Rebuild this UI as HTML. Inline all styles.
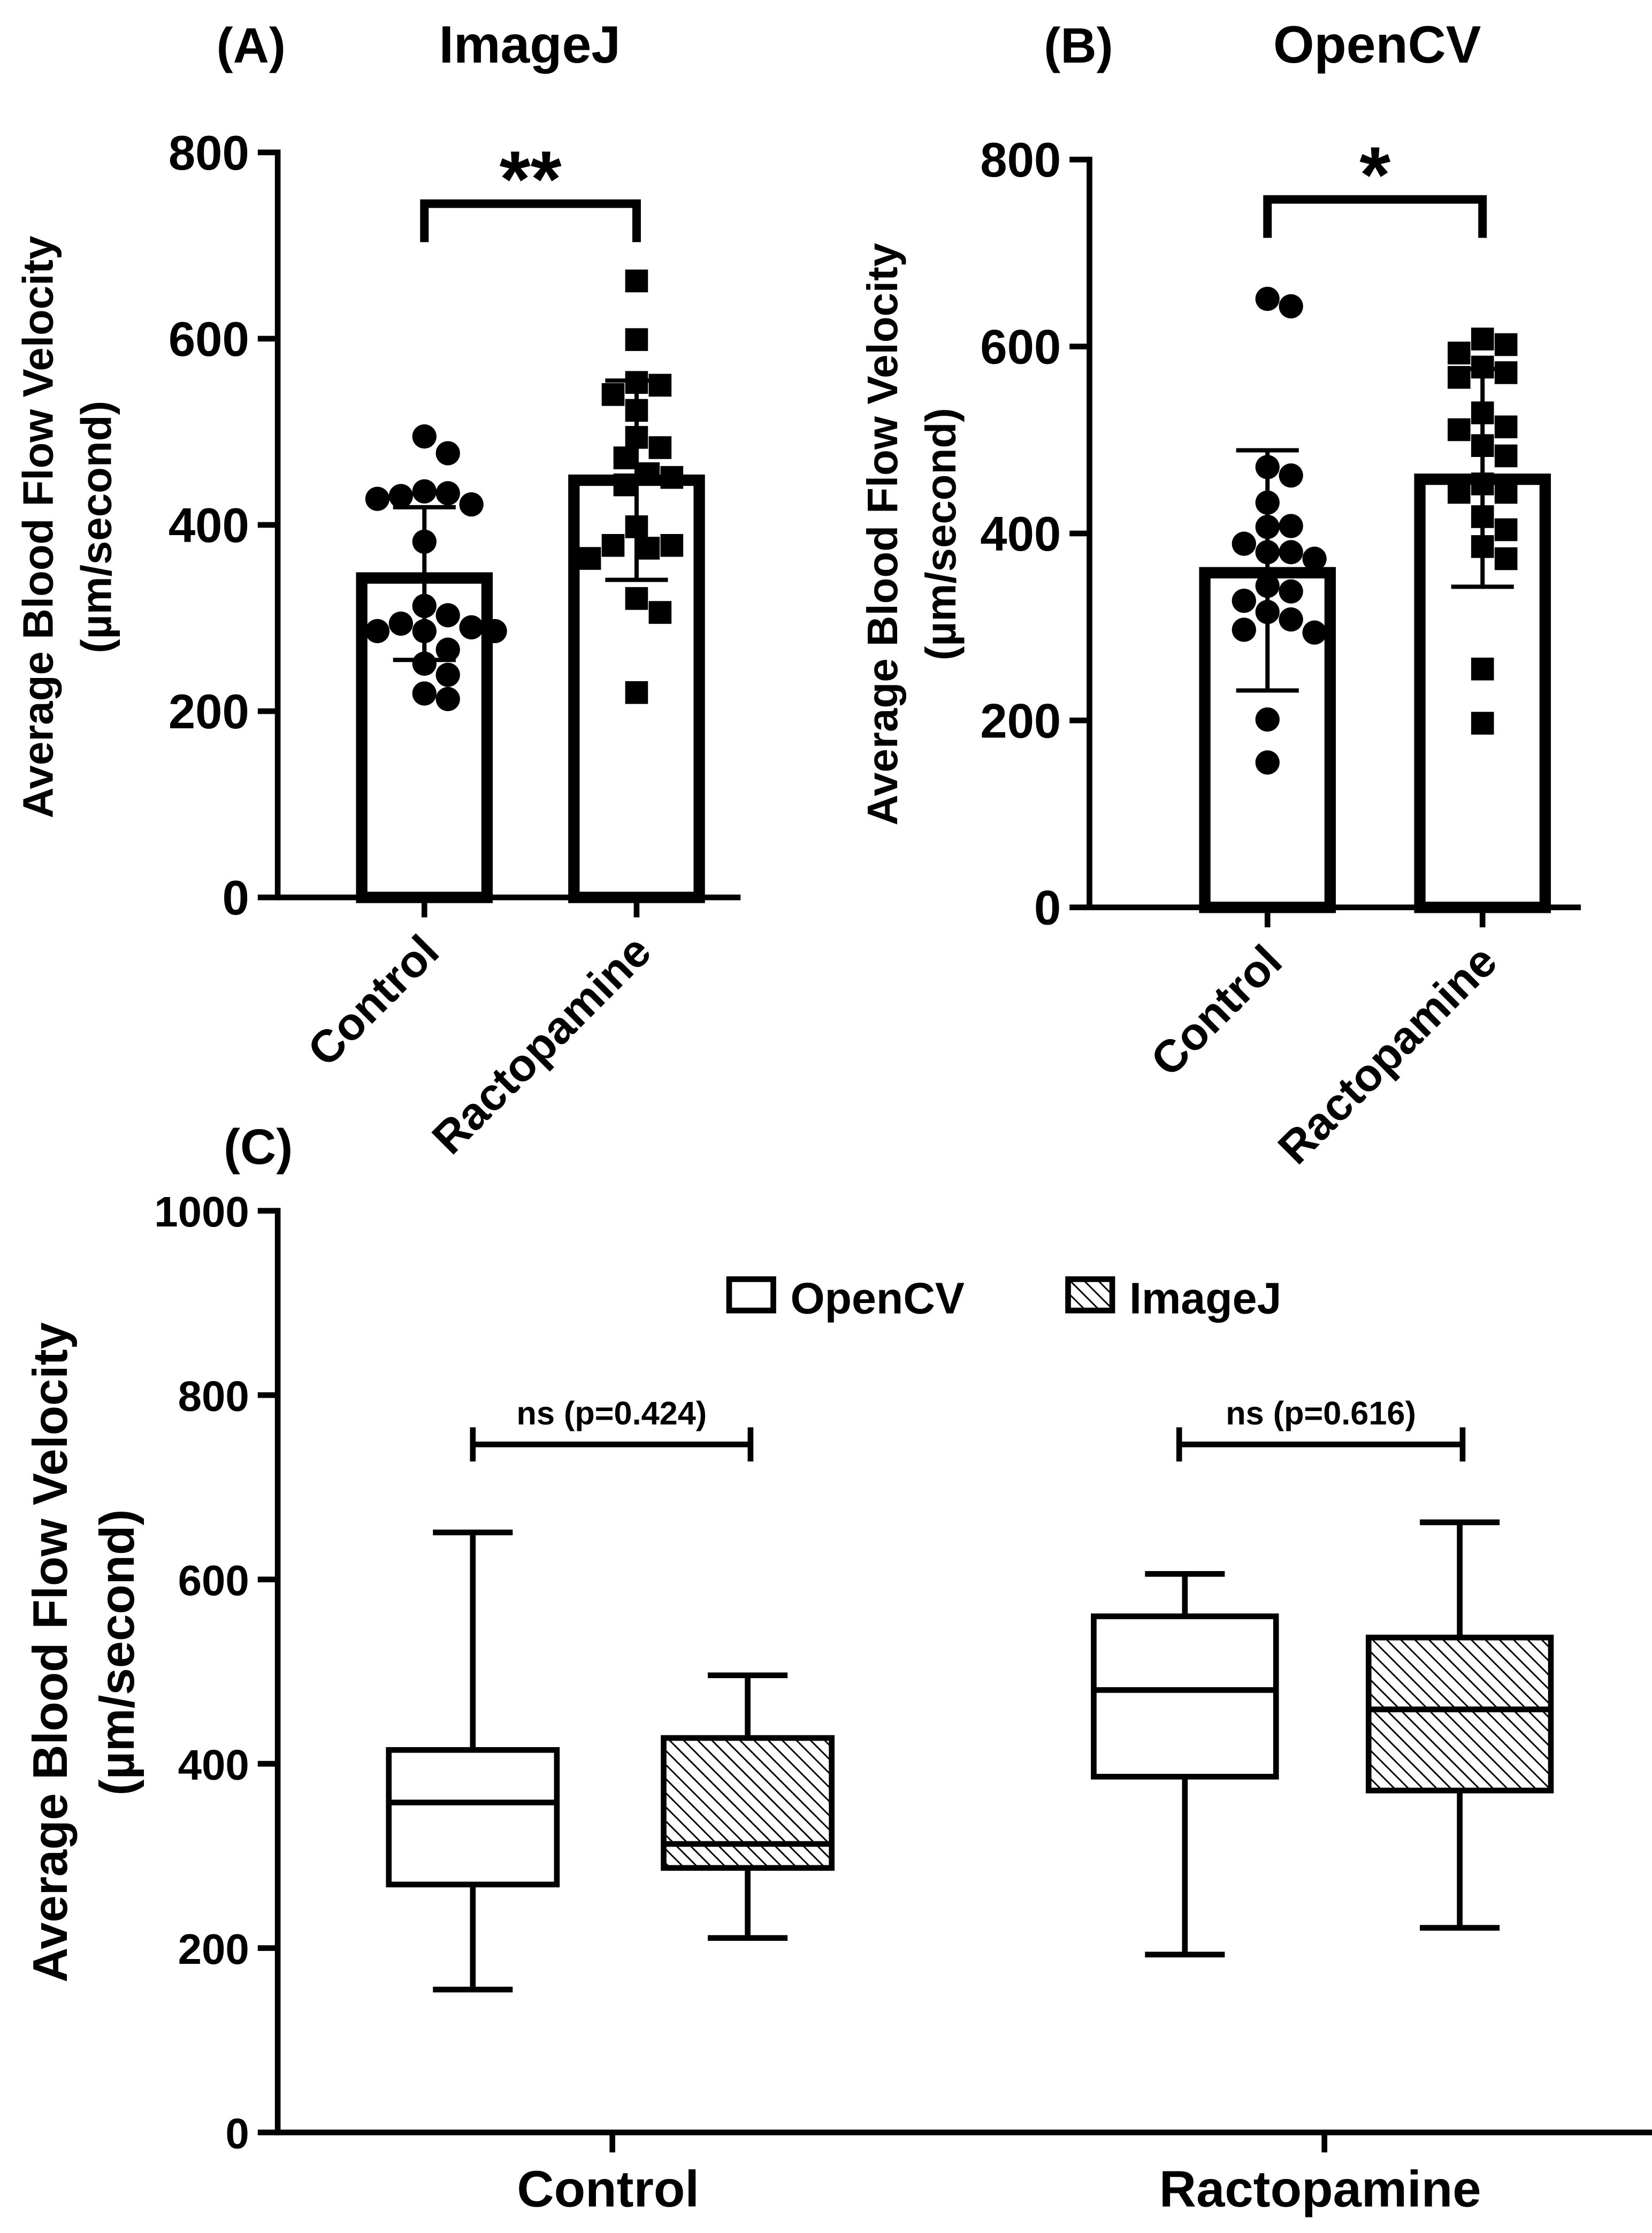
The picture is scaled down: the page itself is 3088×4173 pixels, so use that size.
<!DOCTYPE html>
<html><head><meta charset="utf-8"><style>
html,body{margin:0;padding:0;background:#fff}
svg{display:block}
text{font-family:"Liberation Sans",Arial,sans-serif;font-weight:bold;fill:#000}
</style></head><body>
<svg id="fig" xmlns="http://www.w3.org/2000/svg" width="3088" height="4173" viewBox="0 0 1160 1567.6" preserveAspectRatio="none">
<defs>
<pattern id="hatch" patternUnits="userSpaceOnUse" width="7" height="7" patternTransform="rotate(-45)">
<rect width="7" height="7" fill="#fff"/><line x1="0" y1="0" x2="0" y2="7" stroke="#000" stroke-width="2.2"/>
</pattern>
</defs>
<g id="root"></g>
</svg>
<script>
// ---- Panel A (ImageJ) data ----
const catsAB = ["Control", "Ractopamine"];
const imagejControl = [495,477,436,434,431,422,428,382,313,303,294,290,286,286,286,266,251,239,219,213];
const imagejRacto = [662,599,553,550,540,523,494,483,472,455,451,443,398,375,378,378,364,321,306,220];
const imagejMeans = [343,448];
const imagejSD = [[255,419],[341,555]];
// ---- Panel B (OpenCV) data ----
const opencvControl = [651,643,471,462,433,407,408,389,380,380,373,344,338,328,316,308,297,294,201,155];
const opencvRacto = [608,602,593,578,572,567,529,514,511,494,483,453,444,444,418,404,386,373,255,197];
const opencvMeans = [358,458];
const opencvSD = [[232,489],[343,576]];
const ticksAB = [0,200,400,600,800];
// ---- Panel C (box plots) data ----
const catsC = ["Control", "Ractopamine"];
const seriesC = ["OpenCV", "ImageJ"];
// [min, q1, median, q3, max]
const boxOpenCV = [[155,269,358,415,651],[193,386,480,560,606]];
const boxImageJ = [[211,287,313,428,496],[222,371,459,537,662]];
const pLabels = ["ns (p=0.424)", "ns (p=0.616)"];
const ticksC = [0,200,400,600,800,1000];

const NS = "http://www.w3.org/2000/svg";
const root = document.getElementById('root');
function mk(tag, attrs, parent, txt){
  const e = document.createElementNS(NS, tag);
  for (const k in attrs) e.setAttribute(k, attrs[k]);
  if (txt !== undefined) e.textContent = txt;
  (parent || root).appendChild(e);
  return e;
}
function grp(name){
  const g = document.createElementNS(NS,'g');
  
  
  root.appendChild(g);
  return g;
}

function swarm(vals, yfn, cx, d){
  const placed = [];
  const out = [];
  vals.forEach(v=>{
    const y = yfn(v);
    let best = null;
    for (let k=0; k<30 && best===null; k++){
      const cands = k===0 ? [0] : [k*d*0.5, -k*d*0.5];
      for (const off of cands){
        const x = cx + off;
        if (placed.every(p => Math.hypot(p[0]-x, p[1]-y) >= d*0.98)) { best = x; break; }
      }
    }
    placed.push([best, y]);
    out.push([best, y]);
  });
  return out;
}

function barPanel(cfg){
  const g = grp(cfg.name);
  const y = v => cfg.y0 - (v / 800) * (cfg.y0 - cfg.y800);
  const ax = mk('line',{x1:cfg.ax,y1:y(0)+2,x2:cfg.ax,y2:y(800)-2,stroke:'#000','stroke-width':4},g);
  
  
  const xa = mk('line',{x1:cfg.ax-2,y1:y(0),x2:cfg.xend,y2:y(0),stroke:'#000','stroke-width':4},g);
  
  
  ticksAB.forEach(t=>{
    const tl = mk('line',{x1:cfg.ax-14,y1:y(t),x2:cfg.ax,y2:y(t),stroke:'#000','stroke-width':4},g);
    
    
    const tt = mk('text',{x:cfg.ax-20,y:y(t)+12,'text-anchor':'end','font-size':34},g,String(t));
    
    
  });
  cfg.cx.forEach((cx,i)=>{
    const tk = mk('line',{x1:cx,y1:y(0),x2:cx,y2:y(0)+14,stroke:'#000','stroke-width':4},g);
    
    
    const b = mk('rect',{x:cx-44,y:y(cfg.means[i]),width:88,height:y(0)-y(cfg.means[i]),fill:'#fff',stroke:'#000','stroke-width':8},g);
    
    
    const lab = mk('text',{x:cx+12,y:y(0)+40,'text-anchor':'end','font-size':32,transform:`rotate(-45 ${cx+12} ${y(0)+40})`},g,catsAB[i]);
    
    
  });
  const sets = [cfg.c, cfg.r];
  sets.forEach((vals,i)=>{
    const pts = swarm(vals, y, cfg.cx[i], 16.5);
    pts.forEach(p=>{
      let e;
      if (i===0) e = mk('circle',{cx:p[0],cy:p[1],r:8.5,fill:'#000'},g);
      else e = mk('rect',{x:p[0]-8,y:p[1]-8,width:16,height:16,fill:'#000'},g);
      
      
    });
  });
  cfg.cx.forEach((cx,i)=>{
    const [lo,hi] = cfg.sd[i];
    const eb = mk('path',{d:`M${cx},${y(lo)}V${y(hi)}M${cx-22},${y(lo)}H${cx+22}M${cx-22},${y(hi)}H${cx+22}`,stroke:'#000','stroke-width':3,fill:'none'},g);
    
    
  });
  const sb = mk('path',{d:`M${cfg.cx[0]},${cfg.sigY+27}V${cfg.sigY}H${cfg.cx[1]}V${cfg.sigY+27}`,stroke:'#000','stroke-width':6,fill:'none'},g);
  
  
  const st = mk('text',{x:(cfg.cx[0]+cfg.cx[1])/2,y:cfg.sigY+2,'text-anchor':'middle','font-size':56},g,cfg.stars);
  
  
  const pl = mk('text',{x:cfg.plx,y:44,'font-size':35},g,cfg.letter);
  
  
  const ti = mk('text',{x:cfg.tx,y:44,'text-anchor':'middle','font-size':37},g,cfg.title);
  
  
  const yt = mk('text',{x:0,y:0,'text-anchor':'middle','font-size':30,transform:`translate(${cfg.ytx},${cfg.yty}) rotate(-90)`},g,'Average Blood Flow Velocity');
  
  
  const yt2 = mk('text',{x:0,y:0,'text-anchor':'middle','font-size':30,transform:`translate(${cfg.ytx+41},${cfg.yty}) rotate(-90)`},g,'(µm/second)');
  
  
}

barPanel({name:'panel-a',ax:195,xend:520,y0:630,y800:107,cx:[298,447],c:imagejControl,r:imagejRacto,means:imagejMeans,sd:imagejSD,sigY:143,stars:'**',letter:'(A)',plx:152,tx:372,title:'ImageJ',ytx:37,yty:370});
barPanel({name:'panel-b',ax:765,xend:1110,y0:637,y800:112,cx:[890,1041],c:opencvControl,r:opencvRacto,means:opencvMeans,sd:opencvSD,sigY:140,stars:'*',letter:'(B)',plx:733,tx:967,title:'OpenCV',ytx:630,yty:375});

// ---- Panel C ----
(function(){
  const g = grp('panel-c');
  const y0 = 1497, y1000 = 850, ax = 195;
  const y = v => y0 - (v/1000)*(y0-y1000);
  const catX = [430, 930];
  const a = mk('line',{x1:ax,y1:y(0)+2,x2:ax,y2:y(1000)-2,stroke:'#000','stroke-width':4},g);
  
  
  const xa = mk('line',{x1:ax-2,y1:y(0),x2:1160,y2:y(0),stroke:'#000','stroke-width':4},g);
  
  
  ticksC.forEach(t=>{
    const tl = mk('line',{x1:ax-14,y1:y(t),x2:ax,y2:y(t),stroke:'#000','stroke-width':4},g);
    
    
    const tt = mk('text',{x:ax-20,y:y(t)+11,'text-anchor':'end','font-size':30},g,String(t));
    
    
  });
  catX.forEach((cx,i)=>{
    const tk = mk('line',{x1:cx,y1:y(0),x2:cx,y2:y(0)+14,stroke:'#000','stroke-width':4},g);
    
    
    const tl = mk('text',{x:cx-3,y:y(0)+52,'text-anchor':'middle','font-size':36},g,catsC[i]);
    
    
  });
  const offs = [-98, 95];
  const data = [boxOpenCV, boxImageJ];
  const fills = ['#fff','url(#hatch)'];
  data.forEach((ser,s)=>{
    ser.forEach((b,i)=>{
      const cx = catX[i] + offs[s];
      const w = i===1 ? 128 : 118;
      const [mn,q1,md,q3,mx] = b;
      const wk = mk('path',{d:`M${cx},${y(mx)}V${y(q3)}M${cx},${y(q1)}V${y(mn)}M${cx-28},${y(mx)}H${cx+28}M${cx-28},${y(mn)}H${cx+28}`,stroke:'#000','stroke-width':4,fill:'none'},g);
      
      
      const bx = mk('rect',{x:cx-w/2,y:y(q3),width:w,height:y(q1)-y(q3),fill:fills[s],stroke:'#000','stroke-width':4},g);
      
      
      const ml = mk('line',{x1:cx-w/2,y1:y(md),x2:cx+w/2,y2:y(md),stroke:'#000','stroke-width':4},g);
      
      
    });
  });
  catX.forEach((cx,i)=>{
    const xl = cx + offs[0] - 4*i, xr = cx + offs[1] + 2;
    const yb = 1014;
    const br = mk('path',{d:`M${xl},${yb-12}V${yb+12}M${xl},${yb}H${xr}M${xr},${yb-12}V${yb+12}`,stroke:'#000','stroke-width':4,fill:'none'},g);
    
    
    const pt = mk('text',{x:(xl+xr)/2,y:yb-14,'text-anchor':'middle','font-size':23},g,pLabels[i]);
    
    
  });
  const lg = mk('g',{},g);
  
  
  const lx = [512, 750];
  seriesC.forEach((s,i)=>{
    const r = mk('rect',{x:lx[i],y:898,width:31,height:22,fill:fills[i],stroke:'#000','stroke-width':4},lg);
    
    
    const t = mk('text',{x:lx[i]+43,y:922,'font-size':31},lg,s);
    
    
  });
  const pl = mk('text',{x:157,y:817,'font-size':35},g,'(C)');
  
  
  const yt = mk('text',{x:0,y:0,'text-anchor':'middle','font-size':34,transform:`translate(47,1160) rotate(-90)`},g,'Average Blood Flow Velocity');
  
  
  const yt2 = mk('text',{x:0,y:0,'text-anchor':'middle','font-size':34,transform:`translate(94,1160) rotate(-90)`},g,'(µm/second)');
  
  
})();
</script>
</body></html>
